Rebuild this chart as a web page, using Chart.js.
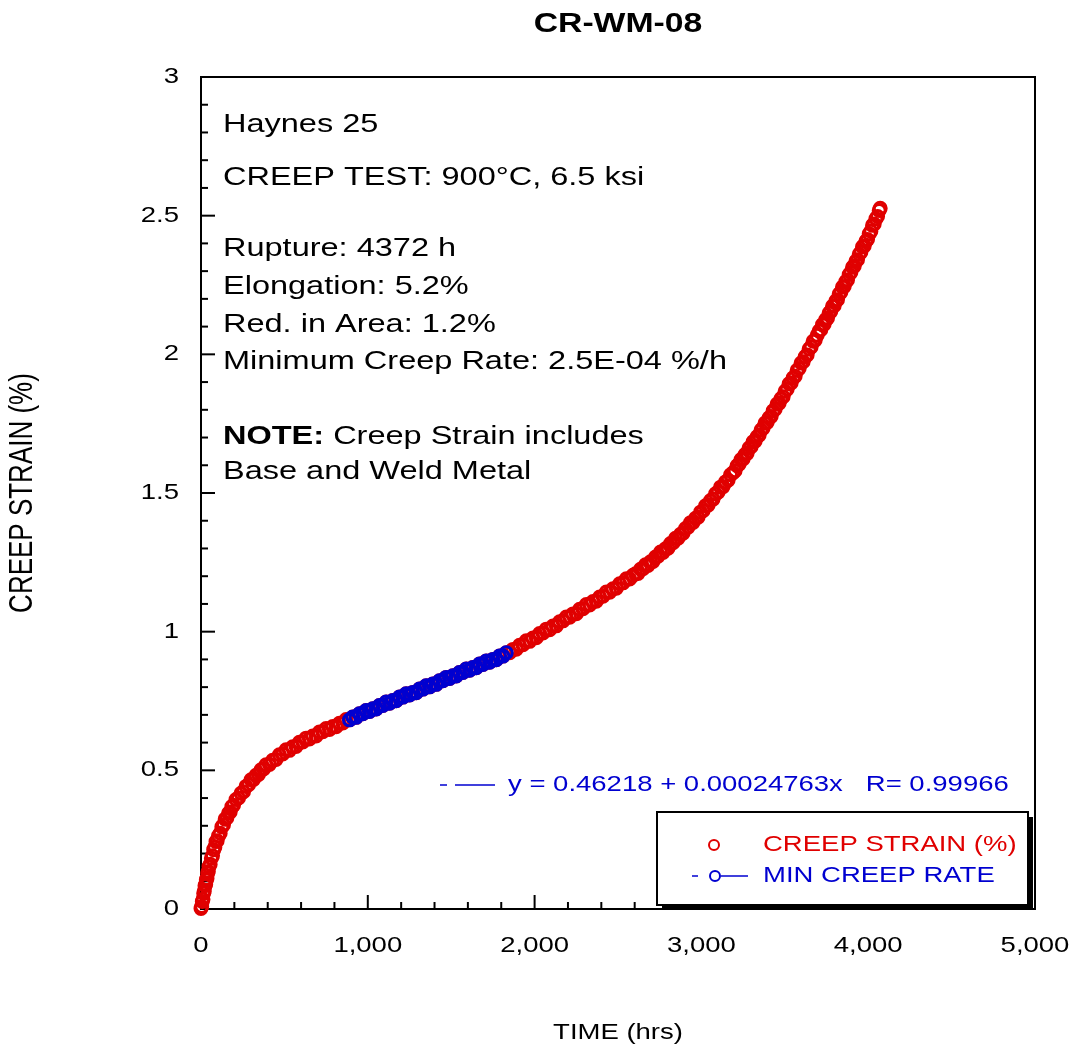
<!DOCTYPE html>
<html>
<head>
<meta charset="utf-8">
<title>CR-WM-08</title>
<script src="https://cdn.jsdelivr.net/npm/chart.js@4.4.1/dist/chart.umd.min.js"></script>
<style>
  html, body { margin: 0; padding: 0; background: #fff; }
  #wrap { position: relative; width: 1073px; height: 1057px; }
</style>
</head>
<body>
<div id="wrap"><canvas id="creepChart"></canvas></div>
<script>
// test time (hrs) and creep strain (%)
var timeHrs = [
  0, 4, 8, 12, 16, 20, 24, 28, 32, 36, 40, 44, 48,
  55, 62, 69, 76, 83, 90, 97,
  105, 115, 125, 135, 145, 155, 165, 175, 185, 195,
  210, 225, 240, 255, 270, 285, 300, 315, 330, 345, 360, 375, 390,
  410, 430, 450, 470, 490, 510, 530, 550, 570, 590, 610, 630, 650, 670, 690, 710, 730, 750, 770, 790, 810, 830, 850, 870,
  890, 910, 930, 950, 970, 990, 1010, 1030, 1050, 1070, 1090, 1110, 1130, 1150, 1170, 1190, 1210, 1230, 1250, 1270,
  1290, 1310, 1330, 1350, 1370, 1390, 1410, 1430, 1450, 1470, 1490, 1510, 1530, 1550, 1570, 1590, 1610, 1630, 1650, 1670,
  1690, 1710, 1730, 1750, 1770, 1790, 1810, 1830,
  1850, 1870, 1890, 1910, 1930, 1950, 1970, 1990, 2010, 2030, 2050, 2070, 2090, 2110, 2130, 2150, 2170, 2190, 2210, 2230,
  2250, 2270, 2290, 2310, 2330, 2350, 2370, 2390, 2410, 2430, 2450, 2470, 2490, 2510, 2530, 2550, 2570, 2590,
  2605, 2620, 2635, 2650, 2665, 2680, 2695, 2710, 2725, 2740, 2755, 2770, 2785, 2800, 2815, 2830, 2845, 2860, 2875, 2890,
  2905, 2920, 2935, 2950, 2965, 2980, 2995, 3010, 3025, 3040, 3055, 3070, 3085, 3100, 3115, 3130, 3145, 3160, 3175, 3190,
  3202, 3214, 3226, 3238, 3250, 3262, 3274, 3286, 3298, 3310, 3322, 3334, 3346, 3358, 3370, 3382, 3394, 3406, 3418, 3430,
  3442, 3454, 3466, 3478, 3490, 3502, 3514, 3526, 3538, 3550, 3562, 3574, 3586, 3598, 3610, 3622, 3634, 3646, 3658, 3670,
  3682, 3694,
  3706, 3716, 3726, 3736, 3746, 3756, 3766, 3776, 3786, 3796, 3806, 3816, 3826, 3836, 3846, 3856, 3866, 3876, 3886, 3896,
  3906, 3916, 3926, 3936, 3946, 3956, 3966, 3976, 3986, 3996, 4006, 4016, 4026, 4036, 4046, 4056, 4066, 4072
];
var creepStrain = [
  0.002, 0.009, 0.027, 0.035, 0.057, 0.065, 0.084, 0.088, 0.105, 0.110, 0.130, 0.135, 0.153,
  0.161, 0.183, 0.192, 0.214, 0.223, 0.243, 0.246,
  0.264, 0.273, 0.296, 0.304, 0.324, 0.328, 0.345, 0.350, 0.369, 0.374,
  0.395, 0.400, 0.417, 0.423, 0.442, 0.448, 0.466, 0.467, 0.482, 0.485, 0.502, 0.505, 0.520,
  0.521, 0.536, 0.539, 0.556, 0.559, 0.574, 0.572, 0.585, 0.586, 0.601, 0.602, 0.616, 0.613, 0.624, 0.624, 0.638, 0.639, 0.651, 0.647, 0.658, 0.657, 0.670, 0.671, 0.683,
  0.682, 0.692, 0.691, 0.704, 0.704, 0.716, 0.712, 0.722, 0.721, 0.734, 0.734, 0.746, 0.742, 0.752, 0.751, 0.764, 0.764, 0.776, 0.772, 0.781,
  0.780, 0.793, 0.793, 0.805, 0.801, 0.811, 0.810, 0.823, 0.823, 0.835, 0.831, 0.841, 0.840, 0.853, 0.853, 0.865, 0.861, 0.871, 0.870, 0.883,
  0.882, 0.894, 0.890, 0.900, 0.899, 0.912, 0.912, 0.924,
  0.924, 0.936, 0.937, 0.951, 0.953, 0.967, 0.965, 0.977, 0.978, 0.993, 0.995, 1.009, 1.007, 1.020, 1.021, 1.036, 1.039, 1.053, 1.052, 1.064,
  1.065, 1.081, 1.083, 1.098, 1.096, 1.109, 1.110, 1.125, 1.128, 1.143, 1.142, 1.155, 1.157, 1.173, 1.176, 1.191, 1.190, 1.203,
  1.209, 1.210, 1.225, 1.227, 1.241, 1.239, 1.252, 1.253, 1.269, 1.272, 1.287, 1.286, 1.299, 1.301, 1.318, 1.321, 1.337, 1.337, 1.351, 1.355,
  1.372, 1.377, 1.393, 1.394, 1.409, 1.413, 1.431, 1.436, 1.454, 1.456, 1.473, 1.478, 1.497, 1.503, 1.521, 1.523, 1.540, 1.546, 1.566, 1.573,
  1.580, 1.598, 1.604, 1.621, 1.623, 1.639, 1.643, 1.662, 1.667, 1.685, 1.687, 1.703, 1.708, 1.727, 1.734, 1.752, 1.754, 1.771, 1.776, 1.796,
  1.802, 1.821, 1.824, 1.841, 1.847, 1.867, 1.874, 1.894, 1.897, 1.915, 1.921, 1.942, 1.949, 1.969, 1.973, 1.991, 1.998, 2.019, 2.027, 2.047,
  2.051, 2.069,
  2.084, 2.089, 2.107, 2.109, 2.125, 2.130, 2.149, 2.155, 2.173, 2.175, 2.192, 2.197, 2.217, 2.224, 2.243, 2.245, 2.262, 2.268, 2.288, 2.295,
  2.314, 2.318, 2.335, 2.341, 2.361, 2.368, 2.388, 2.391, 2.408, 2.414, 2.435, 2.444, 2.465, 2.470, 2.489, 2.497, 2.519, 2.527
];
// window used for the minimum creep rate fit (hrs)
var rateFrom = 875;
var rateTo = 1830;

var xTickValues = [0, 1000, 2000, 3000, 4000, 5000];
var xTickLabels = ['0', '1,000', '2,000', '3,000', '4,000', '5,000'];
var yTickValues = [0, 0.5, 1, 1.5, 2, 2.5, 3];
var yTickLabels = ['0', '0.5', '1', '1.5', '2', '2.5', '3'];

var noteLines = [
  'Haynes 25',
  'CREEP TEST: 900\u00B0C, 6.5 ksi',
  'Rupture: 4372 h',
  'Elongation: 5.2%',
  'Red. in Area: 1.2%',
  'Minimum Creep Rate: 2.5E-04 %/h'
];
var fitLabel = 'y = 0.46218 + 0.00024763x   R= 0.99966';

var RED = '#e00000';
var BLUE = '#0000d0';
var FONT = '"Liberation Sans", Arial, sans-serif';
var SX = 1.25; // the source picture is stretched sideways

var strainPts = timeHrs.map(function (t, i) { return { x: t, y: creepStrain[i] }; });
var ratePts = strainPts.filter(function (p) { return p.x >= rateFrom && p.x <= rateTo; });

function drawText(ctx, s, x, y, font, color, align, rot) {
  ctx.save();
  ctx.font = font;
  ctx.fillStyle = color || '#000';
  ctx.textAlign = align || 'left';
  ctx.textBaseline = 'middle';
  ctx.translate(x, y);
  ctx.scale(SX, 1);
  if (rot) ctx.rotate(rot);
  ctx.fillText(s, 0, 0);
  var w = ctx.measureText(s).width * SX;
  ctx.restore();
  return w;
}

function line(ctx, x1, y1, x2, y2) {
  ctx.beginPath();
  ctx.moveTo(x1, y1);
  ctx.lineTo(x2, y2);
  ctx.stroke();
}

var framePlugin = {
  id: 'frame',
  beforeDatasetsDraw: function (chart) {
    var ctx = chart.ctx, a = chart.chartArea;
    var xs = chart.scales.x, ys = chart.scales.y;
    ctx.save();
    ctx.strokeStyle = '#000';
    ctx.lineWidth = 2;
    ctx.strokeRect(a.left, a.top, a.right - a.left, a.bottom - a.top);
    // inward ticks
    for (var i = 1; i < 25; i++) {
      var px = xs.getPixelForValue(i * 200);
      line(ctx, px, a.bottom, px, a.bottom - (i % 5 === 0 ? 14 : 7));
    }
    for (var j = 1; j < 30; j++) {
      var py = ys.getPixelForValue(j / 10);
      line(ctx, a.left, py, a.left + (j % 5 === 0 ? 14 : 7), py);
    }
    ctx.restore();
  },
  afterDraw: function (chart) {
    var ctx = chart.ctx, a = chart.chartArea;
    var xs = chart.scales.x, ys = chart.scales.y;
    var tickFont = '22px ' + FONT;

    drawText(ctx, 'CR-WM-08', (a.left + a.right) / 2, 25, 'bold 27px ' + FONT, '#000', 'center');

    xTickValues.forEach(function (v, i) {
      drawText(ctx, xTickLabels[i], xs.getPixelForValue(v), 946, tickFont, '#000', 'center');
    });
    yTickValues.forEach(function (v, i) {
      drawText(ctx, yTickLabels[i], 179, ys.getPixelForValue(v), tickFont, '#000', 'right');
    });
    drawText(ctx, 'TIME (hrs)', (a.left + a.right) / 2, 1033, tickFont, '#000', 'center');
    drawText(ctx, 'CREEP STRAIN (%)', 23, (a.top + a.bottom) / 2, '26px ' + FONT, '#000', 'center', -Math.PI / 2);

    // notes block
    var noteFont = '26px ' + FONT;
    var noteY = [125, 178, 249, 287, 325, 362];
    noteLines.forEach(function (s, i) { drawText(ctx, s, 223, noteY[i], noteFont, '#000'); });
    var w = drawText(ctx, 'NOTE:', 223, 437, 'bold 26px ' + FONT, '#000');
    drawText(ctx, ' Creep Strain includes', 223 + w, 437, noteFont, '#000');
    drawText(ctx, 'Base and Weld Metal', 223, 472, noteFont, '#000');

    // fit label
    ctx.save();
    ctx.strokeStyle = BLUE;
    ctx.lineWidth = 1.5;
    line(ctx, 440, 785, 447, 785);
    line(ctx, 455, 785, 495, 785);
    ctx.restore();
    drawText(ctx, fitLabel, 508, 785, '22px ' + FONT, BLUE);

    // legend box with shadow
    ctx.save();
    ctx.fillStyle = '#000';
    ctx.fillRect(662, 817, 371, 93);
    ctx.fillStyle = '#fff';
    ctx.fillRect(657, 812, 371, 93);
    ctx.strokeStyle = '#000';
    ctx.lineWidth = 2;
    ctx.strokeRect(657, 812, 371, 93);
    ctx.strokeStyle = RED;
    ctx.beginPath(); ctx.arc(714, 845, 5, 0, Math.PI * 2); ctx.stroke();
    ctx.strokeStyle = BLUE;
    ctx.lineWidth = 1.5;
    line(ctx, 692, 876, 698, 876);
    line(ctx, 721, 876, 748, 876);
    ctx.lineWidth = 2;
    ctx.beginPath(); ctx.arc(715, 876, 5, 0, Math.PI * 2); ctx.stroke();
    ctx.restore();
    drawText(ctx, 'CREEP STRAIN (%)', 763, 845, '22px ' + FONT, RED);
    drawText(ctx, 'MIN CREEP RATE', 763, 876, '22px ' + FONT, BLUE);
  }
};

var ctx = document.getElementById('creepChart').getContext('2d');
var creepChart = new Chart(ctx, {
  type: 'scatter',
  data: {
    datasets: [
      {
        label: 'CREEP STRAIN (%)',
        data: strainPts,
        borderColor: RED,
        backgroundColor: 'rgba(0,0,0,0)',
        pointRadius: 6,
        pointBorderWidth: 3,
        clip: false,
        order: 2
      },
      {
        label: 'MIN CREEP RATE',
        data: ratePts,
        borderColor: BLUE,
        backgroundColor: 'rgba(0,0,0,0)',
        pointRadius: 6,
        pointBorderWidth: 3,
        showLine: false,
        clip: false,
        order: 1
      }
    ]
  },
  options: {
    responsive: true,
    maintainAspectRatio: false,
    animation: false,
    events: [],
    layout: { padding: { left: 201, right: 38, top: 77, bottom: 148 } },
    plugins: {
      legend: { display: false },
      tooltip: { enabled: false },
      title: { display: false }
    },
    scales: {
      x: { type: 'linear', display: false, min: 0, max: 5000, ticks: { stepSize: 1000 } },
      y: { type: 'linear', display: false, min: 0, max: 3, ticks: { stepSize: 0.5 } }
    }
  },
  plugins: [framePlugin]
});
</script>
</body>
</html>
